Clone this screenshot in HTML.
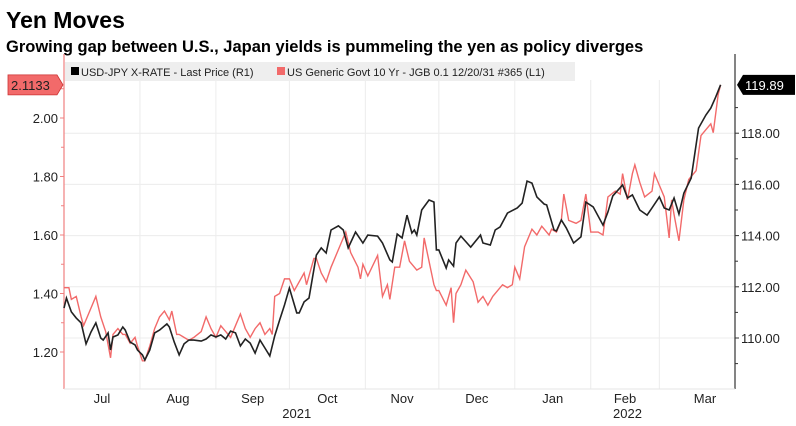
<!DOCTYPE html>
<html><head><meta charset="utf-8">
<style>
body{margin:0;background:#fff;width:796px;height:426px;overflow:hidden;font-family:"Liberation Sans",sans-serif}
svg{position:absolute;left:0;top:0}
</style></head>
<body>
<svg width="796" height="426" id="c">
<text x="6" y="28" font-size="23" font-weight="bold" fill="#000">Yen Moves</text>
<text x="6" y="52" font-size="16.5" font-weight="bold" fill="#000">Growing gap between U.S., Japan yields is pummeling the yen as policy diverges</text>
<g id="grid"></g>
<rect x="65" y="62" width="510" height="19" fill="#eeeeee"/>
<rect x="71" y="67" width="8" height="8" fill="#000"/>
<text x="81" y="76" font-size="11" fill="#222">USD-JPY X-RATE - Last Price (R1)</text>
<rect x="277" y="67" width="8" height="8" fill="#f26a6a"/>
<text x="287" y="76" font-size="11" fill="#222">US Generic Govt 10 Yr - JGB 0.1 12/20/31 #365 (L1)</text>
<g id="axes"></g>
<g id="series"></g>
</svg>
<script>
const redDays=[0,2,3,5,7,8,10,11,13,15,17,19,20,22,24,25,27,29,30,32,33,35,37,39,41,43,44,46,47,49,51,53,56,58,60,62,64,66,68,70,72,74,76,78,80,82,84,85,86,88,90,92,94,98,99,102,103,105,107,109,113,115,117,120,121,122,124,128,130,132,133,135,137,139,141,144,146,147,149,151,152,153,156,158,159,160,162,164,167,169,171,173,175,177,179,181,183,184,186,188,191,193,195,198,199,201,203,204,206,209,211,213,215,218,220,222,225,227,228,230,232,233,235,237,240,241,243,245,247,248,249,251,253,255,258,260,262,264,265,267,268];
const redVals=[1.42,1.42,1.38,1.39,1.32,1.29,1.33,1.35,1.39,1.32,1.27,1.18,1.26,1.28,1.26,1.26,1.23,1.25,1.22,1.17,1.17,1.22,1.28,1.32,1.34,1.31,1.34,1.26,1.26,1.25,1.24,1.25,1.27,1.32,1.28,1.25,1.29,1.27,1.25,1.29,1.33,1.28,1.25,1.28,1.30,1.26,1.28,1.26,1.39,1.40,1.45,1.45,1.41,1.47,1.43,1.52,1.52,1.47,1.44,1.49,1.57,1.61,1.54,1.49,1.45,1.50,1.46,1.53,1.39,1.43,1.38,1.49,1.49,1.58,1.51,1.48,1.49,1.59,1.51,1.43,1.41,1.41,1.36,1.42,1.30,1.40,1.43,1.48,1.44,1.37,1.39,1.36,1.39,1.41,1.43,1.42,1.43,1.49,1.45,1.56,1.62,1.60,1.63,1.60,1.62,1.61,1.65,1.74,1.65,1.64,1.65,1.74,1.61,1.61,1.60,1.73,1.75,1.74,1.81,1.72,1.81,1.84,1.78,1.73,1.75,1.81,1.77,1.73,1.59,1.72,1.67,1.58,1.72,1.79,1.82,1.94,1.96,1.98,1.95,2.08,2.1133];
const blackDays=[0,1,3,5,7,9,11,13,15,16,18,19,20,22,24,25,27,29,30,32,33,35,37,39,42,43,45,47,49,51,53,56,58,60,62,64,66,68,70,72,74,76,78,80,82,84,86,88,90,92,95,96,98,100,103,105,107,109,112,114,116,119,122,124,128,130,133,134,136,138,140,142,143,144,146,149,151,152,153,156,157,159,160,162,166,170,171,174,176,178,181,185,187,189,191,193,196,197,200,201,203,205,208,211,213,216,220,222,224,228,230,232,235,238,240,243,245,247,249,251,253,256,259,262,264,266,268];
const blackVals=[111.17,111.56,111.02,110.78,110.59,109.77,110.23,110.59,110.00,109.92,110.20,109.53,110.04,110.12,110.43,110.31,109.84,109.73,109.53,109.34,109.14,109.53,110.20,110.31,110.55,110.43,109.84,109.34,109.77,109.92,109.92,109.88,109.96,110.12,110.04,110.12,109.96,110.27,110.20,109.69,109.96,109.80,109.41,109.92,109.61,109.30,110.08,110.70,111.29,111.95,110.98,110.98,111.41,111.56,113.24,113.52,113.32,114.22,114.38,114.22,113.52,114.14,113.71,114.02,113.98,113.71,113.05,112.97,114.06,113.91,114.80,114.10,114.22,114.02,115.00,115.39,115.31,113.44,113.44,112.73,113.05,112.81,113.71,113.98,113.55,114.02,113.71,113.63,114.22,114.34,114.88,115.08,115.27,116.13,116.05,115.51,115.23,115.20,114.22,114.18,114.61,114.30,113.71,113.95,115.31,115.12,114.41,114.92,115.55,115.98,115.47,115.59,115.00,114.80,115.08,115.51,115.08,115.00,115.47,114.84,115.66,116.25,118.20,118.71,118.98,119.41,119.89];
const leftTicks=[1.20,1.40,1.60,1.80,2.00];
const rightTicks=[110,112,114,116,118];
const monthLabels=["Jul","Aug","Sep","Oct","Nov","Dec","Jan","Feb","Mar"];
const monthStarts=[0,31,62,92,123,153,184,215,243];
const yearLabels=["2021","2022"];
const yearPos=[95,230];

const X0=64,X1=735,T=62,B=389;
const xs=d=>X0+d*2.45;
const yl=v=>352-(v-1.2)*292.5;
const yr=v=>338-(v-110)*25.6;
const NS="http://www.w3.org/2000/svg";
function mk(tag,attrs,parent,txt){const e=document.createElementNS(NS,tag);for(const k in attrs)e.setAttribute(k,attrs[k]);if(txt!==undefined)e.textContent=txt;parent.appendChild(e);return e;}
const grid=document.getElementById('grid'),axes=document.getElementById('axes'),ser=document.getElementById('series');
rightTicks.forEach(v=>{const l=mk('line',{x1:X0,x2:X1,y1:yr(v),y2:yr(v),stroke:'#ececec','stroke-width':1},grid);

});
monthStarts.slice(1).forEach(d=>{const l=mk('line',{x1:xs(d),x2:xs(d),y1:T+18,y2:B,stroke:'#ececec','stroke-width':1},grid);

});
mk('line',{x1:X0,x2:X0,y1:T-8,y2:B,stroke:'#f08080','stroke-width':1.2},axes);
mk('line',{x1:X1,x2:X1,y1:T-8,y2:B,stroke:'#333','stroke-width':1.2},axes);
mk('line',{x1:X0,x2:X1,y1:B,y2:B,stroke:'#e6e6e6','stroke-width':1},axes);
leftTicks.forEach(v=>{mk('line',{x1:X0-4,x2:X0,y1:yl(v),y2:yl(v),stroke:'#f08080'},axes);
mk('line',{x1:X0-3,x2:X0,y1:yl(v+0.1),y2:yl(v+0.1),stroke:'#f08080'},axes);
const t=mk('text',{x:X0-6,y:yl(v)+5,'font-size':13,'text-anchor':'end',fill:'#222'},axes,v.toFixed(2));

});
rightTicks.forEach(v=>{mk('line',{x1:X1,x2:X1+4,y1:yr(v),y2:yr(v),stroke:'#333'},axes);
mk('line',{x1:X1,x2:X1+3,y1:yr(v+1),y2:yr(v+1),stroke:'#333'},axes);
const t=mk('text',{x:X1+6,y:yr(v)+5,'font-size':13,fill:'#222'},axes,v.toFixed(2));

});
mk('line',{x1:X1,x2:X1+3,y1:yr(109),y2:yr(109),stroke:'#333'},axes);
monthLabels.forEach((m,i)=>{const end=i<8?monthStarts[i+1]:268;const cx=i<8?(xs(monthStarts[i])+xs(end))/2:705;
const t=mk('text',{x:cx,y:403,'font-size':13,'text-anchor':'middle',fill:'#222'},axes,m);

});
yearLabels.forEach((y,i)=>{const t=mk('text',{x:xs(yearPos[i]),y:418,'font-size':13,'text-anchor':'middle',fill:'#222'},axes,y);

});
const pr=mk('polyline',{points:redDays.map((d,i)=>xs(d)+','+yl(redVals[i])).join(' '),fill:'none',stroke:'#f26a6a','stroke-width':1.4},ser);


const pb=mk('polyline',{points:blackDays.map((d,i)=>xs(d)+','+yr(blackVals[i])).join(' '),fill:'none',stroke:'#222','stroke-width':1.6},ser);


const lv=redVals[redVals.length-1],rv=blackVals[blackVals.length-1];
const ly=yl(lv),ry=yr(rv);
const bl=mk('path',{d:`M8,${ly-10}H57L63,${ly}L57,${ly+10}H8Z`,fill:'#f26a6a',stroke:'#c33','stroke-width':0.8},axes);


mk('text',{x:11,y:ly+5,'font-size':13,fill:'#222'},axes,lv.toFixed(4));
const br=mk('path',{d:`M737,${ry}L743,${ry-10}H795V${ry+10}H743Z`,fill:'#000'},axes);


mk('text',{x:745,y:ry+5,'font-size':13,fill:'#fff'},axes,rv.toFixed(2));
</script>
</body></html>
